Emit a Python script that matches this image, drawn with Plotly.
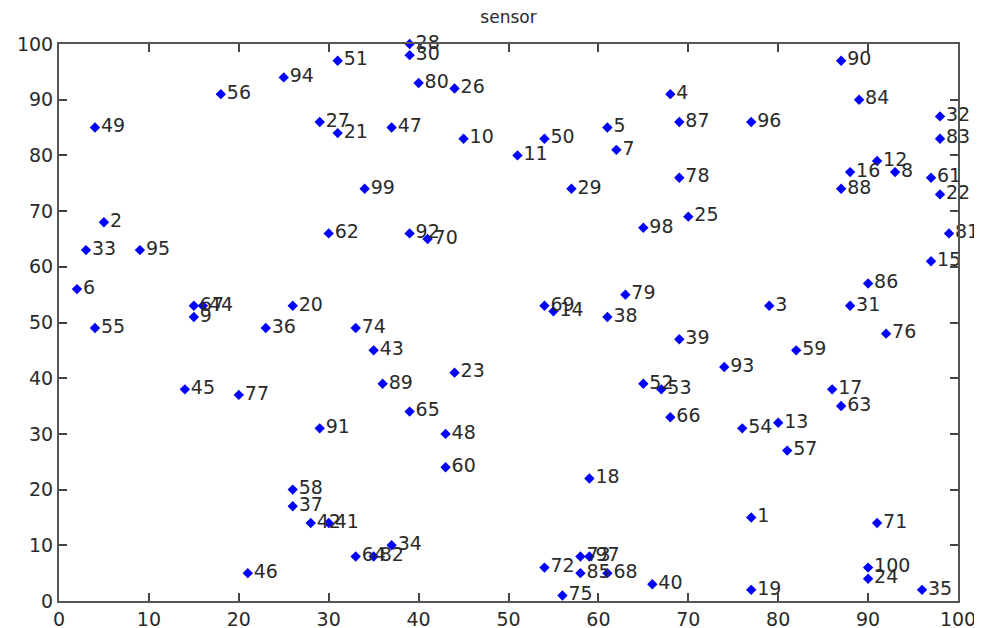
import plotly.graph_objects as go

ids = list(range(1, 101))
xs = [77, 5, 79, 68, 61, 2, 62, 93, 15, 45,
      51, 91, 80, 55, 97, 88, 86, 59, 77, 26,
      31, 98, 44, 90, 70, 44, 29, 39, 57, 39,
      88, 98, 3, 37, 96, 23, 26, 61, 69, 66,
      30, 28, 35, 16, 14, 21, 37, 43, 4, 54,
      31, 65, 67, 76, 4, 18, 81, 26, 82, 43,
      97, 30, 87, 33, 39, 68, 15, 61, 54, 41,
      91, 54, 58, 33, 56, 92, 20, 69, 63, 40,
      99, 35, 98, 89, 58, 90, 69, 87, 36, 87,
      29, 39, 74, 25, 9, 77, 59, 65, 34, 90]
ys = [15, 68, 53, 91, 85, 56, 81, 77, 51, 83,
      80, 79, 32, 52, 61, 77, 38, 22, 2, 53,
      84, 73, 41, 4, 69, 92, 86, 100, 74, 98,
      53, 87, 63, 10, 2, 49, 17, 51, 47, 3,
      14, 14, 45, 53, 38, 5, 85, 30, 85, 83,
      97, 39, 38, 31, 49, 91, 27, 20, 45, 24,
      76, 66, 35, 8, 34, 33, 53, 5, 53, 65,
      14, 6, 8, 49, 1, 48, 37, 76, 55, 93,
      66, 8, 83, 90, 5, 57, 86, 74, 39, 97,
      31, 66, 42, 94, 63, 86, 8, 67, 74, 6]
ticks = list(range(0, 101, 10))

fig = go.Figure(go.Scatter(
    x=xs, y=ys, mode="markers+text",
    text=[str(i) for i in ids], textposition="middle right",
    textfont=dict(family="DejaVu Sans", size=19, color="#2a2a2a"),
    marker=dict(symbol="diamond", size=8, color="#0000ff"),
    cliponaxis=False, hoverinfo="skip"))

axis = dict(range=[0, 100], tickvals=ticks, ticks="inside", ticklen=8,
            tickwidth=1.5, tickcolor="#444", showline=True, linecolor="#555",
            linewidth=2, mirror="ticks", showgrid=False, zeroline=False,
            automargin=False,
            tickfont=dict(family="DejaVu Sans", size=19, color="#2a2a2a"))

fig.update_layout(
    width=974, height=620,
    margin=dict(l=51, r=24, t=36, b=27, autoexpand=False),
    paper_bgcolor="white", plot_bgcolor="white",
    showlegend=False,
    title=dict(text="sensor", x=0.5, xref="paper", xanchor="center", yref="container",
               y=0.985, yanchor="middle", automargin=False,
               font=dict(family="DejaVu Sans", size=17, color="#2a2a2a")),
    xaxis=axis, yaxis=axis)

fig.write_html("out.html")
